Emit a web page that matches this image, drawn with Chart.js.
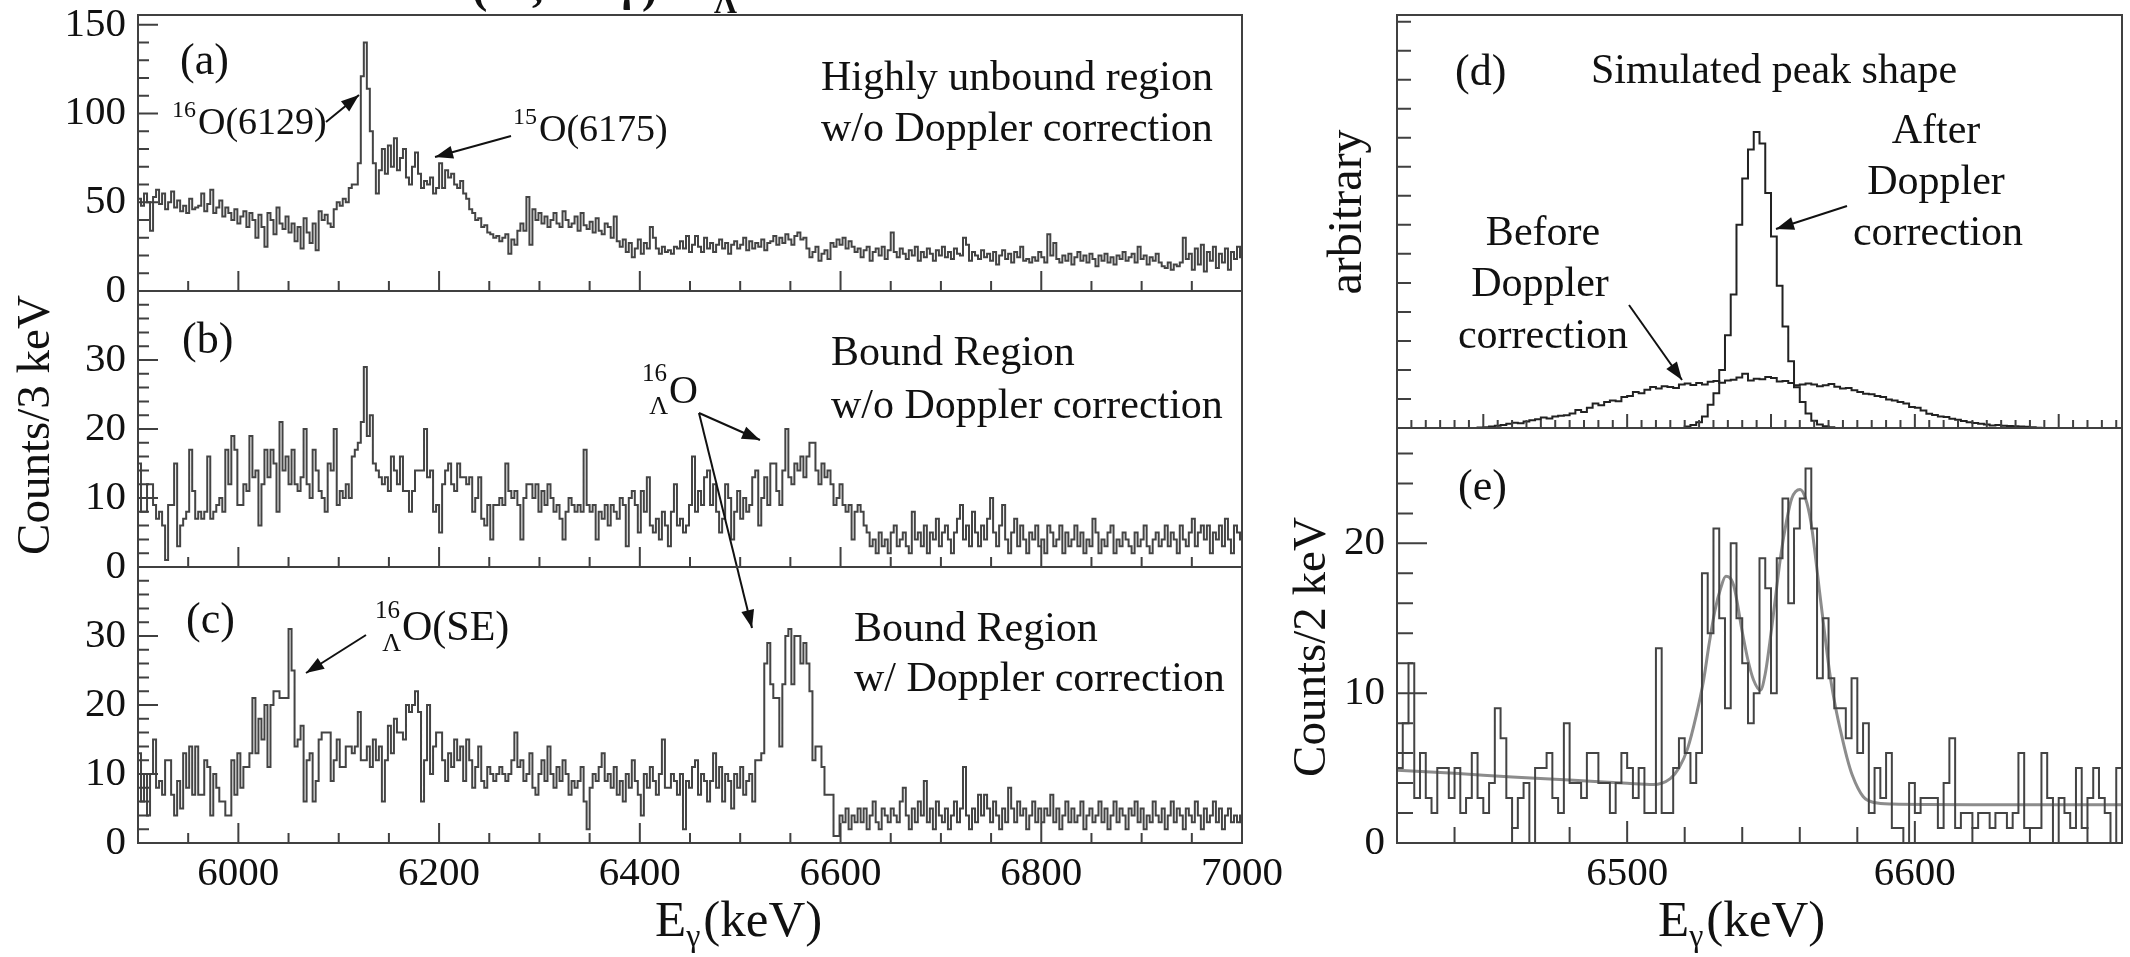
<!DOCTYPE html>
<html>
<head>
<meta charset="utf-8">
<script src="https://cdn.jsdelivr.net/npm/chart.js@4.4.1/dist/chart.umd.min.js"></script>
<style>
html, body { margin: 0; padding: 0; background: #fff; }
#wrap { position: relative; width: 2130px; height: 957px; overflow: hidden; background: #fff; }
canvas { position: absolute; left: 0; top: 0; }
</style>
</head>
<body>
<div id="wrap">
  <canvas id="cA" width="2130" height="957"></canvas>
  <canvas id="cB" width="2130" height="957"></canvas>
  <canvas id="cC" width="2130" height="957"></canvas>
  <canvas id="cD" width="2130" height="957"></canvas>
  <canvas id="cE" width="2130" height="957"></canvas>
</div>
<script>
// ---- data: left column, 3 keV bins starting at 5900 keV ----
var leftBinStart = 5900;
var leftBinWidth = 3;
// (a) highly unbound region, w/o Doppler correction
var countsA = [
  52,48,55,50,34,53,57,49,55,46, 50,56,47,51,45,48,44,52,46,47,
  48,55,45,49,57,44,47,51,42,47, 44,40,46,38,42,45,36,44,40,30,
  43,36,25,44,40,32,47,38,35,42, 33,38,28,36,24,41,33,27,38,23,
  45,40,43,38,36,46,50,48,52,50, 58,60,60,72,121,140,114,90,72,55,
  68,80,66,82,70,86,68,75,80,64, 60,70,78,66,58,62,60,64,55,58,
  72,58,68,64,66,60,58,62,55,52, 46,44,40,41,36,37,33,32,30,31,
  28,30,32,21,29,26,34,38,34,53, 26,46,40,44,38,42,36,40,44,38,
  36,45,40,36,38,42,34,44,37,35, 39,33,41,34,32,38,36,30,42,28,
  25,29,22,27,19,24,29,21,27,24, 36,30,24,21,25,22,23,21,25,24,
  28,24,31,22,26,31,25,22,30,24, 27,22,26,29,24,27,21,26,28,24,
  26,30,23,28,24,27,25,29,23,27, 28,31,26,30,27,32,29,26,31,33,
  29,30,24,19,22,25,17,21,23,18, 27,25,29,26,30,24,28,25,22,24,
  19,23,25,17,22,24,20,25,18,23, 33,22,19,24,21,18,23,20,25,17,
  22,19,24,21,17,23,20,25,19,22, 18,24,21,20,30,26,17,22,20,18,
  23,19,21,17,22,15,20,23,18,21, 16,22,19,25,17,18,16,19,17,22,
  19,16,32,20,27,18,16,20,17,21, 15,19,22,17,20,16,21,18,14,20,
  17,21,16,19,15,20,18,22,17,19, 21,16,25,18,20,15,19,17,21,16,
  14,13,16,12,15,14,16,30,18,21, 12,24,15,26,11,22,17,25,13,21,
  16,24,12,22,18,25,19
];
// (b) bound region, w/o Doppler correction
var countsB = [
  15,8,8,12,12,9,7,8,6,1, 9,9,15,3,6,7,8,17,11,7,
  8,7,8,16,7,8,9,10,8,17, 12,19,17,9,9,12,11,19,13,14,
  6,12,17,13,17,15,8,21,14,16, 12,17,12,11,13,20,12,10,17,14,
  11,10,8,15,14,20,9,11,10,12, 10,16,17,18,21,29,19,22,15,14,
  13,12,13,11,16,14,12,16,11,11, 8,11,14,14,14,20,13,14,8,9,
  5,12,14,15,12,11,15,13,13,12, 13,8,10,13,7,6,9,4,9,9,
  10,9,15,11,10,11,9,4,10,12, 12,10,12,8,11,9,12,10,8,9,
  7,4,8,10,9,8,9,8,17,9, 8,9,4,8,7,9,6,9,8,7,
  10,9,3,10,11,9,5,11,8,13, 6,5,7,4,8,6,3,8,12,6,
  7,5,6,9,16,8,11,9,13,14, 9,12,8,5,7,12,10,4,8,11,
  7,10,8,9,13,14,6,10,13,9, 15,15,11,9,14,20,13,12,15,14,
  16,13,16,18,18,14,12,15,13,14, 12,9,10,12,9,8,9,4,8,9,
  8,6,5,3,4,2,5,3,4,2, 5,6,3,4,5,3,2,8,4,5,
  3,6,2,5,4,7,3,5,6,4, 2,5,7,9,4,6,3,8,5,3,
  6,4,7,10,5,3,6,9,4,2, 5,7,3,6,4,2,5,4,6,3,
  4,2,6,5,3,4,6,2,5,3, 4,6,3,5,2,4,3,7,5,2,
  4,3,5,6,2,4,3,5,4,3, 2,5,3,4,6,3,2,4,5,3,
  4,6,3,5,4,2,6,4,3,5, 7,3,5,6,4,6,2,5,4,6,
  3,7,4,2,6,5,4
];
// (c) bound region, w/ Doppler correction
var countsC = [
  13,6,10,4,10,15,8,9,7,12, 12,7,4,9,5,13,8,14,7,14,
  7,7,12,11,4,10,8,6,6,4, 4,12,7,13,8,11,11,13,21,13,
  18,15,20,11,20,22,22,21,21,21, 31,25,14,15,17,6,12,13,6,9,
  15,16,16,16,9,12,15,11,11,14, 14,13,14,19,12,12,14,11,15,12,
  14,6,12,17,13,18,16,16,15,20, 19,20,22,19,6,12,20,10,14,16,
  16,12,9,13,11,15,12,14,9,15, 12,8,11,14,9,8,11,10,9,10,
  11,10,9,10,12,16,11,12,9,10, 13,8,7,10,12,9,14,10,8,11,
  9,12,10,7,9,8,9,11,6,2, 8,10,9,11,13,9,10,8,11,7,
  9,6,10,8,12,9,7,4,10,8, 11,9,7,10,15,8,8,10,9,7,
  10,2,9,8,11,12,7,10,9,6, 9,13,8,11,6,10,9,5,10,8,
  11,7,9,10,6,12,12,13,26,29, 23,21,21,14,23,30,31,23,30,30,
  26,29,26,22,12,14,14,11,7,7, 7,1,1,4,3,5,2,4,3,5,
  3,5,2,4,6,3,2,5,4,3, 5,4,3,6,8,4,2,5,3,6,
  4,9,3,5,2,6,4,3,5,2, 4,6,3,5,11,4,2,5,3,7,
  4,7,5,3,6,4,2,5,3,8, 5,3,6,4,5,2,4,6,3,5,
  3,5,4,7,3,5,2,4,6,3, 5,3,4,6,2,4,5,3,4,6,
  3,5,2,4,6,3,5,4,2,5, 4,6,3,5,2,4,3,6,4,3,
  5,2,4,6,3,5,4,2,5,4, 3,6,4,2,5,3,4,6,3,5,
  2,4,5,3,4,3,4
];

// ---- data: right column, 2 keV bins starting at 6420 keV ----
var rightBinStart = 6420;
var rightBinWidth = 2;
// (d) simulated peak shape (arbitrary units)
var simBefore = [
  0,0,0,0,0,0,0,0,0,0, 0,0,0,0,0.02,0.03,0.05,0.08,0.1,0.15,
  0.18,0.16,0.22,0.27,0.3,0.36,0.33,0.4,0.42,0.44, 0.5,0.62,0.55,0.7,0.84,0.78,0.9,0.95,0.92,1.07,
  1.1,1.24,1.2,1.32,1.41,1.36,1.44,1.41,1.38,1.5, 1.53,1.48,1.55,1.5,1.59,1.62,1.56,1.64,1.66,1.74,
  1.87,1.64,1.7,1.68,1.76,1.72,1.6,1.62,1.55,1.47, 1.5,1.53,1.5,1.44,1.47,1.52,1.42,1.36,1.38,1.3,
  1.24,1.18,1.16,1.1,1.07,0.98,0.95,0.9,0.84,0.72, 0.7,0.6,0.49,0.45,0.4,0.38,0.32,0.28,0.24,0.2,
  0.17,0.15,0.12,0.09,0.1,0.08,0.07,0.06,0.05,0.04, 0.03,0.01,0,0,0,0,0,0,0,0,
  0,0,0,0,0,0
];
var simAfter = [
  0,0,0,0,0,0,0,0,0,0, 0,0,0,0,0,0,0,0,0,0,
  0,0,0,0,0,0,0,0,0,0, 0,0,0,0,0,0,0,0,0,0,
  0,0,0,0,0,0,0,0,0,0, 0.05,0.1,0.2,0.4,0.8,1.2,2.0,3.2,4.6,7.0,
  8.6,9.6,10.2,9.8,8.1,6.6,4.9,3.5,2.3,1.4, 0.9,0.5,0.25,0.12,0.06,0.03,0,0,0,0,
  0,0,0,0,0,0,0,0,0,0, 0,0,0,0,0,0,0,0,0,0,
  0,0,0,0,0,0,0,0,0,0, 0,0,0,0,0,0,0,0,0,0,
  0,0,0,0,0,0
];
// (e) counts / 2 keV with fit
var countsE = [
  5,8,12,3,6,3,2,5,5,3, 5,2,3,6,3,2,4,9,7,3,
  1,3,4,0,5,5,6,3,2,8, 4,4,3,6,6,4,4,2,4,6,
  5,3,5,2,2,13,2,2,5,7, 6,4,6,18,14,21,15,9,20,15,
  12,8,10,19,17,10,19,23,16,21, 23,25,21,11,15,11,9,9,7,11,
  6,8,2,5,3,6,1,1,0,4, 2,3,3,3,1,4,7,1,2,2,
  1,2,2,1,2,2,1,2,6,1, 1,1,6,3,0,3,2,1,5,1,
  3,5,3,2,0,5
];
var fitEnergy = [6420, 6440, 6460, 6480, 6500, 6509, 6515, 6518, 6521, 6524, 6526.6, 6528.5, 6530.5, 6532.5, 6534.3, 6537, 6540, 6542, 6543.9, 6546.3, 6548, 6549.6, 6551.5, 6553.4, 6555.3, 6557.2, 6560.1, 6562, 6563.9, 6565.4, 6566.8, 6568.7, 6570.6, 6572.5, 6574.4, 6576.4, 6578.3, 6582, 6585.9, 6592, 6620, 6672];
var fitCounts = [4.85, 4.65, 4.4, 4.2, 3.98, 3.9, 4.3, 5.0, 6.3, 8.5, 10.9, 13.3, 15.5, 17.0, 17.8, 17.2, 14.1, 12.2, 10.9, 10.2, 11.3, 13.4, 16.3, 19.2, 21.4, 23.0, 23.6, 23.0, 21.4, 19.2, 16.9, 13.9, 11.1, 9.0, 7.3, 5.7, 4.5, 3.1, 2.7, 2.6, 2.56, 2.56];

// ---- axis tick labels ----
var leftXLabels = [6000, 6200, 6400, 6600, 6800, 7000];
var yLabelsA = [0, 50, 100, 150];
var yLabelsBC = [0, 10, 20, 30];
var rightXLabels = [6500, 6600];
var yLabelsE = [0, 10, 20];

var W = 2130, H = 957;
var INK = '#111';
var LINE = '#404040';
var DATA = '#444';
var FONT = '"Liberation Serif", "Times New Roman", serif';

function histPoints(start, width, counts) {
  var pts = counts.map(function (c, i) { return { x: start + i * width, y: c }; });
  pts.push({ x: start + counts.length * width, y: counts[counts.length - 1] });
  return pts;
}

function tickList(from, to, step, isMajor, majorLen, minorLen) {
  var out = [];
  for (var v = from; v <= to + 1e-9; v += step) {
    out.push([v, isMajor(v) ? majorLen : minorLen]);
  }
  return out;
}

function drawRuns(ctx, x, y, parts) {
  ctx.textAlign = 'left';
  ctx.textBaseline = 'alphabetic';
  parts.forEach(function (p) {
    ctx.font = p[1] + 'px ' + FONT;
    ctx.fillText(p[0], x, y + p[2]);
    x += ctx.measureText(p[0]).width + (p[3] || 0);
  });
}

function drawArrow(ctx, x1, y1, x2, y2) {
  ctx.beginPath();
  ctx.moveTo(x1, y1);
  ctx.lineTo(x2, y2);
  ctx.stroke();
  var ang = Math.atan2(y2 - y1, x2 - x1), L = 18, w = 6.5;
  var bx = x2 - L * Math.cos(ang), by = y2 - L * Math.sin(ang);
  ctx.beginPath();
  ctx.moveTo(x2, y2);
  ctx.lineTo(bx + w * Math.sin(ang), by - w * Math.cos(ang));
  ctx.lineTo(bx - w * Math.sin(ang), by + w * Math.cos(ang));
  ctx.closePath();
  ctx.fill();
}

var decorPlugin = {
  id: 'decor',
  afterDatasetsDraw: function (chart, args, o) {
    var ctx = chart.ctx, a = chart.chartArea, xs = chart.scales.x, ys = chart.scales.y;
    ctx.save();
    // frame + inner ticks
    ctx.strokeStyle = LINE;
    ctx.lineWidth = 2;
    ctx.strokeRect(a.left, a.top, a.right - a.left, a.bottom - a.top);
    ctx.beginPath();
    (o.xTicks || []).forEach(function (t) {
      var px = xs.getPixelForValue(t[0]);
      ctx.moveTo(px, a.bottom);
      ctx.lineTo(px, a.bottom - t[1]);
    });
    (o.yTicks || []).forEach(function (t) {
      var py = ys.getPixelForValue(t[0]);
      ctx.moveTo(a.left, py);
      ctx.lineTo(a.left + t[1], py);
    });
    ctx.stroke();

    // tick labels
    ctx.fillStyle = INK;
    ctx.font = '41px ' + FONT;
    ctx.textAlign = 'right';
    ctx.textBaseline = 'middle';
    (o.yLabels || []).forEach(function (v) {
      ctx.fillText(String(v), a.left - 12, ys.getPixelForValue(v));
    });
    ctx.textAlign = 'center';
    ctx.textBaseline = 'alphabetic';
    (o.xLabels || []).forEach(function (v) {
      ctx.fillText(String(v), xs.getPixelForValue(v), a.bottom + 42);
    });

    // free texts
    (o.texts || []).forEach(function (t) {
      ctx.font = (t.bold ? 'bold ' : '') + t.size + 'px ' + FONT;
      ctx.textAlign = t.align || 'left';
      ctx.textBaseline = 'alphabetic';
      ctx.fillText(t.s, t.x, t.y);
    });
    (o.runs || []).forEach(function (r) { drawRuns(ctx, r.x, r.y, r.parts); });
    (o.lambda || []).forEach(function (l) {
      ctx.textBaseline = 'alphabetic';
      ctx.textAlign = 'right';
      ctx.font = '25px ' + FONT;
      ctx.fillText('16', l.x - 2, l.y - 22);
      ctx.font = '26px ' + FONT;
      ctx.fillText('\u039B', l.x - 1, l.y + 11);
      ctx.textAlign = 'left';
      ctx.font = l.size + 'px ' + FONT;
      ctx.fillText('O' + (l.tail || ''), l.x, l.y);
    });
    (o.rot || []).forEach(function (t) {
      ctx.save();
      ctx.translate(t.x, t.y);
      ctx.rotate(-Math.PI / 2);
      ctx.font = t.size + 'px ' + FONT;
      ctx.textAlign = 'center';
      ctx.textBaseline = 'alphabetic';
      ctx.fillText(t.s, 0, 0);
      ctx.restore();
    });
    ctx.strokeStyle = INK;
    ctx.lineWidth = 2;
    (o.arrows || []).forEach(function (ar) { drawArrow(ctx, ar[0], ar[1], ar[2], ar[3]); });
    ctx.restore();
  }
};

function histSet(points, color, width) {
  return { data: points, stepped: true, borderColor: color, borderWidth: width, fill: false, pointRadius: 0, tension: 0 };
}

function panel(id, box, xmin, xmax, ymax, datasets, decor) {
  return new Chart(document.getElementById(id), {
    type: 'line',
    data: { datasets: datasets },
    options: {
      responsive: false,
      animation: false,
      devicePixelRatio: 1,
      layout: { padding: { left: box[0], top: box[1], right: W - box[2], bottom: H - box[3] } },
      scales: {
        x: { type: 'linear', min: xmin, max: xmax, display: false },
        y: { type: 'linear', min: 0, max: ymax, display: false }
      },
      plugins: { legend: { display: false }, tooltip: { enabled: false }, decor: decor },
      elements: { point: { radius: 0 } }
    },
    plugins: [decorPlugin]
  });
}

var leftXTicks = tickList(5950, 6950, 50, function (v) { return v % 200 === 0; }, 20, 10);
var yTicksA = tickList(10, 150, 10, function (v) { return v % 50 === 0; }, 20, 11);
var yTicksBC = tickList(2, 38, 2, function (v) { return v % 10 === 0; }, 20, 11);

// (a)
panel('cA', [138, 15, 1242, 291], 5900, 7000, 155.5,
  [histSet(histPoints(leftBinStart, leftBinWidth, countsA), DATA, 2)],
  {
    xTicks: leftXTicks, yTicks: yTicksA, yLabels: yLabelsA,
    texts: [
      { s: '(a)', x: 180, y: 74, size: 44 },
      { s: 'Highly unbound region', x: 821, y: 90, size: 42 },
      { s: 'w/o Doppler correction', x: 821, y: 141, size: 42 },
      // cropped remains of a heading above the figure
      { s: '(', x: 472, y: 2, size: 46, bold: true },
      { s: ',', x: 532, y: 1, size: 46, bold: true },
      { s: '\u03B3', x: 616, y: 0, size: 46, bold: true },
      { s: ')', x: 642, y: 2, size: 46, bold: true },
      { s: '\u039B', x: 714, y: 13, size: 32, bold: true }
    ],
    runs: [
      { x: 172, y: 134, parts: [['16', 24, -17, 2], ['O(6129)', 38, 0]] },
      { x: 513, y: 141, parts: [['15', 24, -17, 2], ['O(6175)', 38, 0]] }
    ],
    arrows: [[326, 122, 359, 95], [511, 136, 435, 157]]
  });

// (b)
panel('cB', [138, 291, 1242, 567], 5900, 7000, 40,
  [histSet(histPoints(leftBinStart, leftBinWidth, countsB), DATA, 2)],
  {
    xTicks: leftXTicks, yTicks: yTicksBC, yLabels: yLabelsBC,
    texts: [
      { s: '(b)', x: 182, y: 353, size: 44 },
      { s: 'Bound Region', x: 831, y: 365, size: 42 },
      { s: 'w/o Doppler correction', x: 831, y: 418, size: 42 }
    ],
    lambda: [{ x: 669, y: 403, size: 40 }],
    arrows: [[699, 413, 760, 440], [699, 413, 752, 628]]
  });

// (c)
panel('cC', [138, 567, 1242, 843], 5900, 7000, 40,
  [histSet(histPoints(leftBinStart, leftBinWidth, countsC), DATA, 2)],
  {
    xTicks: leftXTicks, yTicks: yTicksBC, yLabels: yLabelsBC, xLabels: leftXLabels,
    texts: [
      { s: '(c)', x: 186, y: 633, size: 44 },
      { s: 'Bound Region', x: 854, y: 641, size: 42 },
      { s: 'w/ Doppler correction', x: 854, y: 691, size: 42 }
    ],
    lambda: [{ x: 402, y: 640, size: 42, tail: '(SE)' }],
    arrows: [[366, 635, 306, 673]],
    rot: [{ s: 'Counts/3 keV', x: 49, y: 425, size: 47 }],
    runs: [{ x: 655, y: 936, parts: [['E', 51, 0], ['\u03B3', 32, 10, 3], ['(keV)', 51, 0]] }]
  });

// (d)
panel('cD', [1397, 15, 2122, 428], 6420, 6672, 14.23,
  [
    histSet(histPoints(rightBinStart, rightBinWidth, simBefore), '#222', 2),
    histSet(histPoints(rightBinStart, rightBinWidth, simAfter), '#222', 2)
  ],
  {
    xTicks: tickList(6425, 6670, 5, function (v) { return v % 50 === 0; }, 14, 8),
    yTicks: tickList(1, 14, 1, function () { return false; }, 14, 14),
    texts: [
      { s: '(d)', x: 1455, y: 85, size: 44 },
      { s: 'Simulated peak shape', x: 1591, y: 83, size: 42 },
      { s: 'After', x: 1936, y: 143, size: 42, align: 'center' },
      { s: 'Doppler', x: 1936, y: 194, size: 42, align: 'center' },
      { s: 'correction', x: 1938, y: 245, size: 42, align: 'center' },
      { s: 'Before', x: 1543, y: 245, size: 42, align: 'center' },
      { s: 'Doppler', x: 1540, y: 296, size: 42, align: 'center' },
      { s: 'correction', x: 1543, y: 348, size: 42, align: 'center' }
    ],
    arrows: [[1847, 206, 1776, 229], [1629, 305, 1682, 380]],
    rot: [{ s: 'arbitrary', x: 1361, y: 212, size: 48 }]
  });

// (e)
panel('cE', [1397, 428, 2122, 843], 6420, 6672, 27.7,
  [
    histSet(histPoints(rightBinStart, rightBinWidth, countsE), DATA, 2),
    {
      data: fitEnergy.map(function (e, i) { return { x: e, y: fitCounts[i] }; }),
      borderColor: '#8c8c8c', borderWidth: 3, fill: false, pointRadius: 0,
      cubicInterpolationMode: 'monotone'
    }
  ],
  {
    xTicks: tickList(6440, 6660, 20, function (v) { return v % 100 === 0; }, 22, 16),
    yTicks: tickList(2, 26, 2, function (v) { return v % 10 === 0; }, 30, 16),
    yLabels: yLabelsE, xLabels: rightXLabels,
    texts: [{ s: '(e)', x: 1458, y: 500, size: 44 }],
    rot: [{ s: 'Counts/2 keV', x: 1325, y: 647, size: 47 }],
    runs: [{ x: 1658, y: 936, parts: [['E', 51, 0], ['\u03B3', 32, 10, 3], ['(keV)', 51, 0]] }]
  });
</script>
</body>
</html>
